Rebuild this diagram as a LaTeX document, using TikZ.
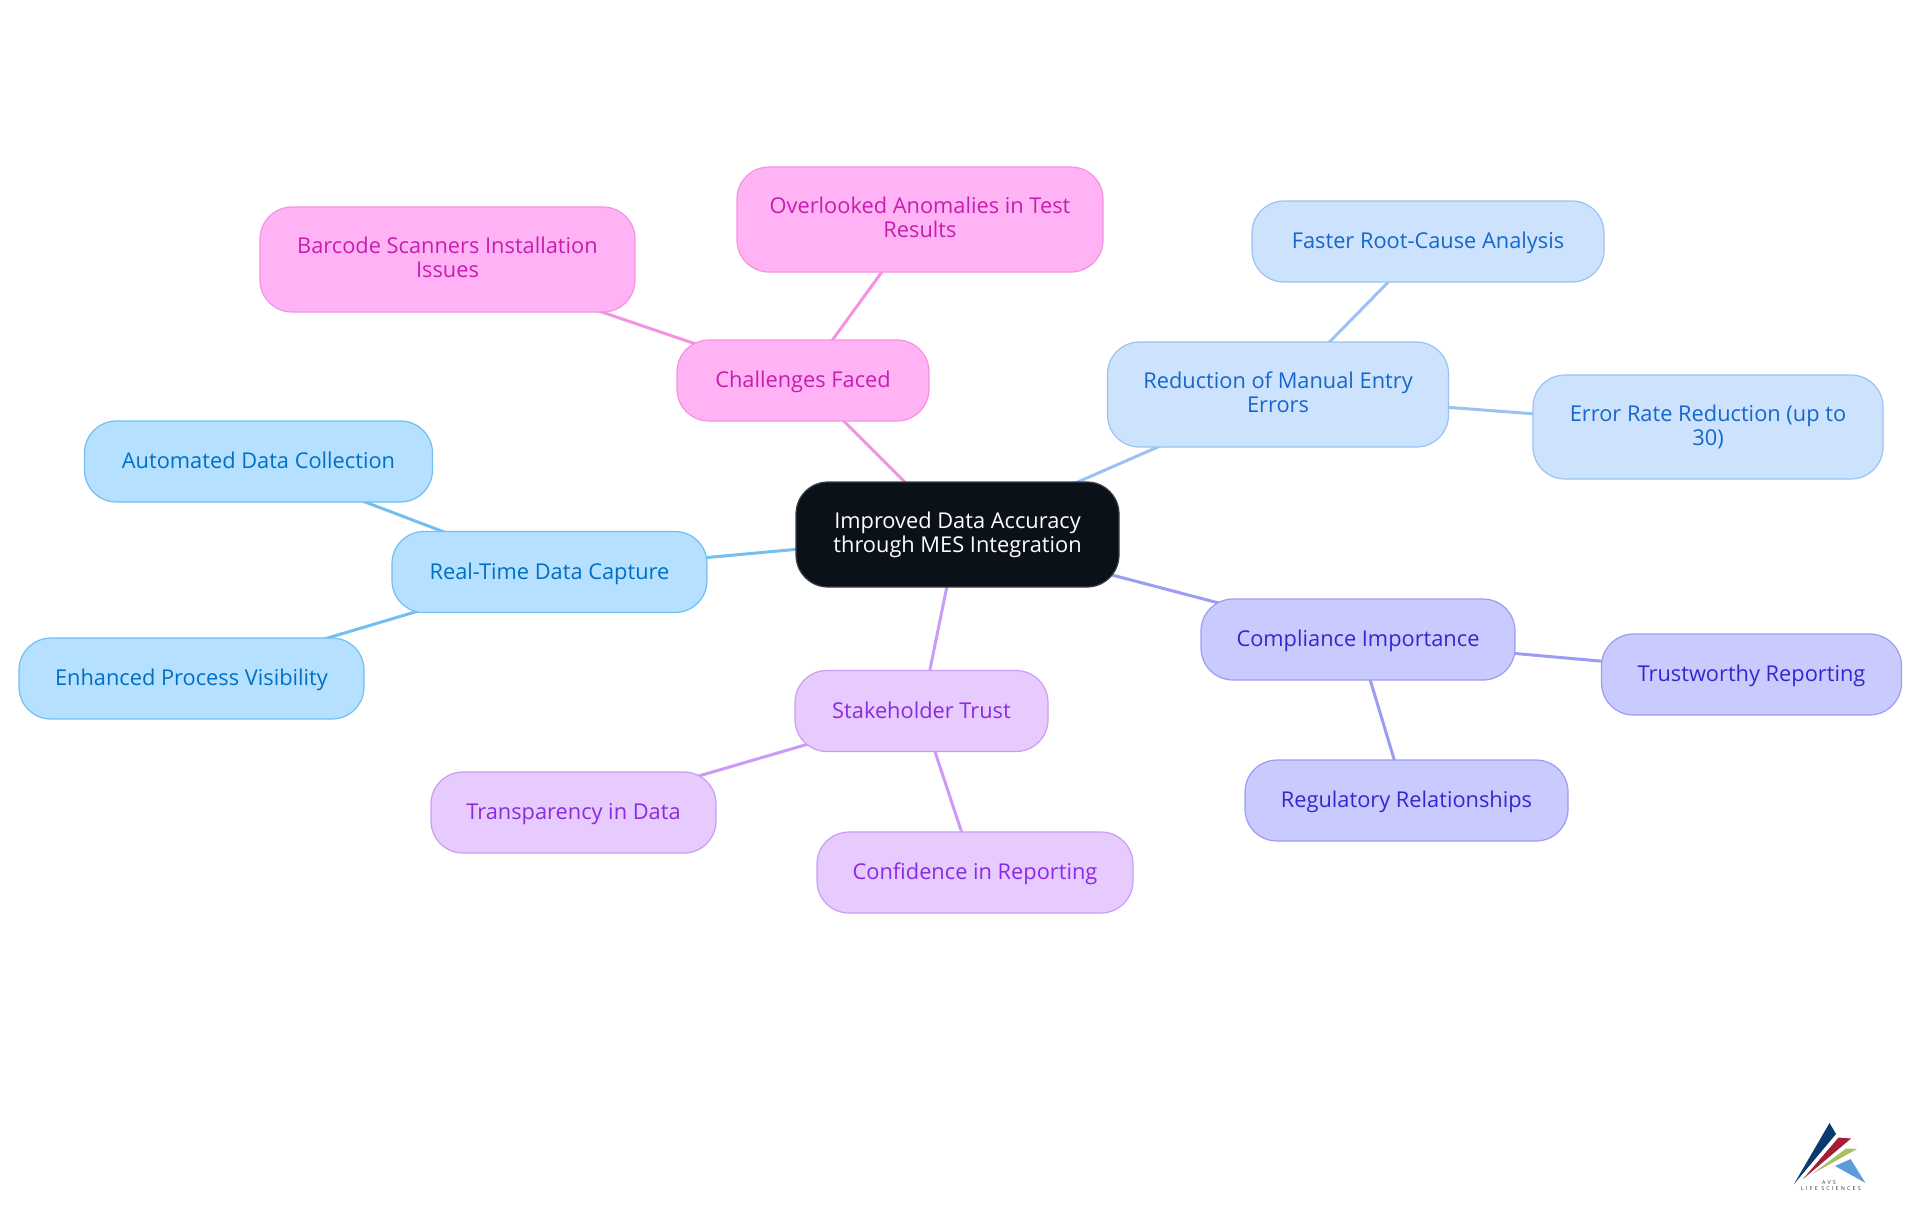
\documentclass[tikz,border=0pt]{standalone}
\usepackage{fontspec}
\setmainfont{Open Sans}
\usetikzlibrary{backgrounds}
\definecolor{pinkF}{HTML}{FFB3F4}\definecolor{pinkD}{HTML}{F592E2}\definecolor{pinkT}{HTML}{C71DB1}
\definecolor{skyF}{HTML}{B5E0FF}\definecolor{skyD}{HTML}{74BEF0}\definecolor{skyT}{HTML}{0070C4}
\definecolor{paleF}{HTML}{CDE3FD}\definecolor{paleD}{HTML}{9AC3F2}\definecolor{paleT}{HTML}{1666CC}
\definecolor{indF}{HTML}{C9CBFF}\definecolor{indD}{HTML}{9C9CF0}\definecolor{indT}{HTML}{3527CF}
\definecolor{purF}{HTML}{E7CBFF}\definecolor{purD}{HTML}{CB9CF5}\definecolor{purT}{HTML}{8A2BE2}
\definecolor{darkF}{HTML}{0B1119}\definecolor{darkD}{HTML}{3A3F46}
\definecolor{logoN}{HTML}{0B3A70}\definecolor{logoR}{HTML}{A51D36}\definecolor{logoG}{HTML}{A9BF62}\definecolor{logoB}{HTML}{5E9BDA}\definecolor{logoT}{HTML}{333333}
\newcommand{\ls}{\rule[-2.6pt]{0pt}{12.4pt}}
\newcommand{\lf}{\rule{0pt}{8.6pt}}
\tikzset{
 x=0.5pt,y=-0.5pt,
 box/.style n args={2}{draw,line width=0.6pt,rounded corners=16pt,inner sep=0pt,align=center,
   minimum width=#1*0.5pt,minimum height=#2*0.5pt,font=\fontsize{10.9}{12}\selectfont\lineskiplimit -5pt\relax},
 pinkbox/.style={fill=pinkF,draw=pinkD,text=pinkT},
 skybox/.style={fill=skyF,draw=skyD,text=skyT},
 palebox/.style={fill=paleF,draw=paleD,text=paleT},
 indbox/.style={fill=indF,draw=indD,text=indT},
 purbox/.style={fill=purF,draw=purD,text=purT},
 darkbox/.style={fill=darkF,draw=darkD,text=white},
 link/.style={line width=1.5pt},
 logotext/.style={inner sep=0pt,text=logoT}
}
\begin{document}
\begin{tikzpicture}
\useasboundingbox (0,0) rectangle (1920,1215);
\node[box={323}{105},darkbox] (c) at (957.5,534.5) {\lf Improved Data Accuracy\\\ls through MES Integration};
\node[box={252}{81},pinkbox] (ch) at (803,380.5) {\ls Challenges Faced};
\node[box={366}{105},pinkbox] (ov) at (920,219.5) {\lf Overlooked Anomalies in Test\\\ls Results};
\node[box={375}{105},pinkbox] (ba) at (447.5,259.5) {\lf Barcode Scanners Installation\\\ls Issues};
\node[box={341}{105},palebox] (re) at (1278,394.5) {\lf Reduction of Manual Entry\\\ls Errors};
\node[box={352}{81},palebox] (fa) at (1428,241.5) {\ls Faster Root-Cause Analysis};
\node[box={350}{104},palebox] (er) at (1708,427) {\lf Error Rate Reduction (up to\\\ls 30)};
\node[box={315}{81},skybox] (rt) at (549.5,572) {\ls Real-Time Data Capture};
\node[box={348}{81},skybox] (au) at (258.5,461.5) {\ls Automated Data Collection};
\node[box={345}{81},skybox] (en) at (191.5,678.5) {\ls Enhanced Process Visibility};
\node[box={253}{81},purbox] (st) at (921.5,711) {\ls Stakeholder Trust};
\node[box={285}{81},purbox] (tr) at (573.5,812.5) {\ls Transparency in Data};
\node[box={316}{81},purbox] (co) at (975,872.5) {\ls Confidence in Reporting};
\node[box={314}{81},indbox] (cm) at (1358,639.5) {\ls Compliance Importance};
\node[box={300}{81},indbox] (tw) at (1751.5,674.5) {\ls Trustworthy Reporting};
\node[box={323}{81},indbox] (rg) at (1406.5,800.5) {\ls Regulatory Relationships};
\begin{scope}[on background layer]
\draw[link,pinkD] (c.center)--(ch.center) (ch.center)--(ov.center) (ch.center)--(ba.center);
\draw[link,paleD] (c.center)--(re.center) (re.center)--(fa.center) (re.center)--(er.center);
\draw[link,skyD] (c.center)--(rt.center) (rt.center)--(au.center) (rt.center)--(en.center);
\draw[link,purD] (c.center)--(st.center) (st.center)--(tr.center) (st.center)--(co.center);
\draw[link,indD] (c.center)--(cm.center) (cm.center)--(tw.center) (cm.center)--(rg.center);
\end{scope}
\fill[logoN] (1794,1184)--(1829.5,1123)--(1836,1134)--cycle;
\fill[logoR] (1803,1179)--(1838.5,1137.5)--(1851,1138.5)--cycle;
\fill[logoG] (1812,1174)--(1846,1148.5)--(1857,1149)--cycle;
\fill[logoB] (1835,1166)--(1850.5,1159)--(1865.5,1183)--cycle;
\node[logotext,font=\fontsize{2.7}{3}\selectfont\addfontfeature{LetterSpace=40}] (l1) at (1829,1182.5) {AVS};
\node[logotext,font=\fontsize{2.7}{3}\selectfont\addfontfeature{LetterSpace=40}] (l2) at (1831,1189) {LIFE SCIENCES};
\end{tikzpicture}
\end{document}
